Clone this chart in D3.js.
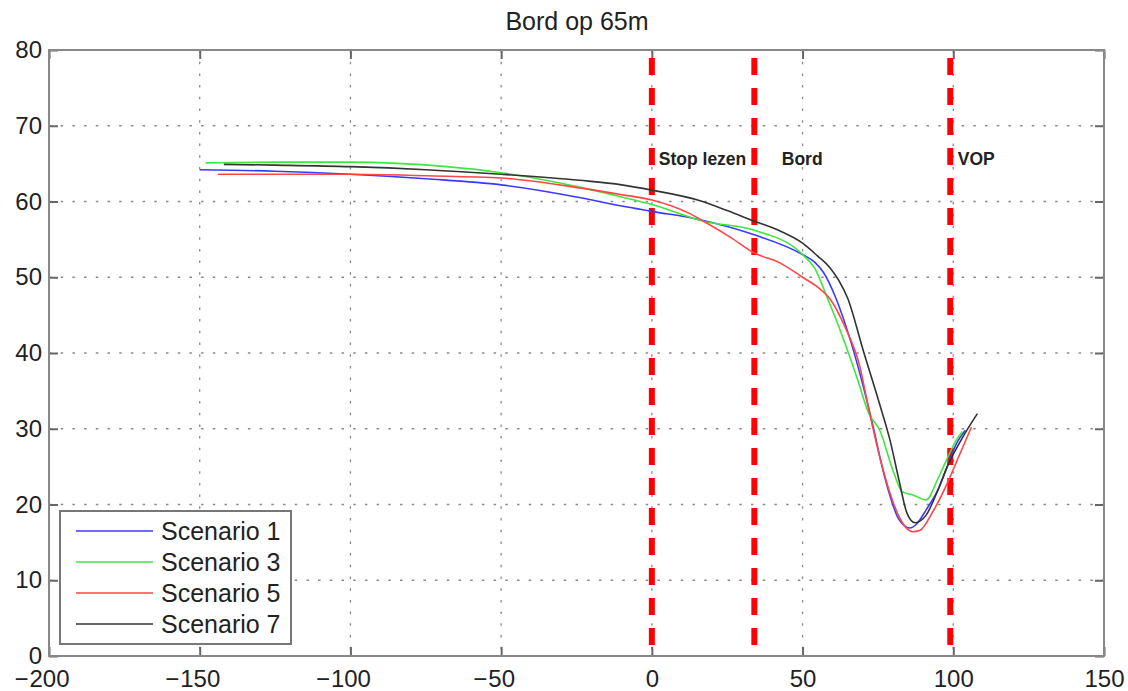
<!DOCTYPE html>
<html>
<head>
<meta charset="utf-8">
<script src="https://cdn.jsdelivr.net/npm/d3@7"></script>
<style>
  html, body { margin: 0; padding: 0; background: #fff; }
  svg { display: block; font-family: "Liberation Sans", Arial, sans-serif; }
</style>
</head>
<body>
<svg id="chart" width="1128" height="691"></svg>
<script>
// ---- data ----
const xTicks = [-200, -150, -100, -50, 0, 50, 100, 150];
const yTicks = [0, 10, 20, 30, 40, 50, 60, 70, 80];

const s1x = [-150, -125, -100, -75, -50, -25, -10, 0, 16, 34, 50, 54, 57, 61, 66, 70, 73, 77, 82, 85.6, 88, 91, 95, 98, 101, 104];
const s1y = [64.2, 64.0, 63.6, 63.0, 62.2, 60.6, 59.4, 58.7, 57.6, 55.6, 53.0, 52.0, 50.6, 47.3, 41.5, 35.8, 31.0, 24.0, 18.0, 16.9, 17.5, 19.3, 22.0, 25.0, 28.0, 29.8];

const s3x = [-148, -125, -100, -68, -50, -24, -10, 0, 17, 34, 50, 54, 58, 62, 68, 72, 75.6, 80, 83, 87, 91, 95, 98, 101, 103];
const s3y = [65.1, 65.2, 65.2, 64.6, 63.8, 61.9, 60.6, 59.6, 57.4, 56.2, 53.0, 51.2, 47.5, 43.5, 36.8, 32.0, 29.8, 24.5, 21.7, 21.2, 20.6, 23.5, 26.1, 28.5, 29.6];

const s5x = [-144, -125, -100, -75, -50, -24, -10, 0, 12.6, 17.6, 26, 34, 42.5, 50, 55, 59, 64, 69, 72, 75.6, 79, 82, 86.6, 89, 93, 98, 102, 106];
const s5y = [63.6, 63.6, 63.6, 63.4, 63.1, 61.8, 60.9, 60.2, 58.4, 57.3, 55.3, 53.2, 51.9, 50.0, 48.7, 47.2, 43.5, 38.2, 32.5, 26.3, 21.5, 18.4, 16.4, 16.6, 18.9, 22.8, 26.5, 30.2];

const s7x = [-142, -125, -100, -75, -50, -24, -10, 0, 16, 25, 34, 42, 50, 55, 59, 62, 65, 70, 75.6, 79, 82, 84.6, 87.3, 91, 95, 98, 103, 108];
const s7y = [64.9, 64.8, 64.6, 64.2, 63.6, 62.8, 62.2, 61.5, 60.1, 58.8, 57.4, 56.2, 54.5, 52.8, 51.3, 49.6, 47.2, 40.5, 33.2, 28.5, 23.2, 18.9, 17.6, 18.6, 22.0, 25.0, 28.8, 32.0];

const seriesNames = ["Scenario 1", "Scenario 3", "Scenario 5", "Scenario 7"];
const seriesColors = ["#3a3aff", "#3ee63e", "#ff4545", "#333333"];

const markerX = [0, 34, 99];
const annotationText = ["Stop lezen", "Bord", "VOP"];
const annotationX = [2.3, 43.1, 101.5];
const annotationY = 64.8;

const title = "Bord op 65m";

// ---- layout ----
const svg = d3.select("#chart");
const L = 49, R = 1104, T = 50, B = 656;

const x = d3.scaleLinear().domain([-200, 150]).range([L, R]);
const y = d3.scaleLinear().domain([0, 80]).range([B, T]);

// grid
const grid = svg.append("g");
grid.selectAll("line.gx").data(xTicks.slice(1, -1)).enter().append("line")
  .attr("x1", d => x(d)).attr("x2", d => x(d)).attr("y1", T).attr("y2", B)
  .attr("stroke", "#8a8a8a").attr("stroke-width", 1.3).attr("stroke-dasharray", "2.5,9.2");
grid.selectAll("line.gy").data(yTicks.slice(1, -1)).enter().append("line")
  .attr("y1", d => y(d)).attr("y2", d => y(d)).attr("x1", L).attr("x2", R)
  .attr("stroke", "#8a8a8a").attr("stroke-width", 1.3).attr("stroke-dasharray", "2.5,9.2");

// axes (MATLAB style: inward ticks on all sides)
const tickLen = 9;
const axBottom = d3.axisBottom(x).tickValues(xTicks).tickSize(-tickLen).tickPadding(14)
  .tickFormat(d => String(Math.abs(d)));
const axTop = d3.axisTop(x).tickValues(xTicks).tickSize(-tickLen).tickFormat("");
const axLeft = d3.axisLeft(y).tickValues(yTicks).tickSize(-tickLen).tickPadding(7);
const axRight = d3.axisRight(y).tickValues(yTicks).tickSize(-tickLen).tickFormat("");

function styleAxis(g) {
  g.select(".domain").remove();
  g.selectAll(".tick line").attr("stroke", "#666").attr("stroke-width", 2);
  g.selectAll(".tick text").attr("fill", "#222").style("font-size", "24px")
    .style("font-family", "'Liberation Sans', Arial, sans-serif");
}
const gB = svg.append("g").attr("transform", `translate(0,${B})`).call(axBottom).call(styleAxis);
// MATLAB-like negative labels: digits centred on the tick, minus sign hanging to the left
gB.selectAll(".tick").each(function(d) {
  if (d >= 0) return;
  const t = d3.select(this).select("text");
  const w = t.node().getComputedTextLength();
  d3.select(this).append("text")
    .attr("x", -w / 2 - 1).attr("y", t.attr("y")).attr("dy", t.attr("dy"))
    .attr("text-anchor", "end").attr("fill", "#222").style("font-size", "24px")
    .style("font-family", "'Liberation Sans', Arial, sans-serif")
    .text("\u2212");
});
svg.append("g").attr("transform", `translate(0,${T})`).call(axTop).call(styleAxis);
svg.append("g").attr("transform", `translate(${L},0)`).call(axLeft).call(styleAxis);
svg.append("g").attr("transform", `translate(${R},0)`).call(axRight).call(styleAxis);

// box
svg.append("rect").attr("x", L).attr("y", T).attr("width", R - L).attr("height", B - T)
  .attr("fill", "none").attr("stroke", "#888").attr("stroke-width", 2);

// marker lines
svg.append("g").selectAll("line").data(markerX).enter().append("line")
  .attr("x1", d => x(d)).attr("x2", d => x(d)).attr("y1", T + 8).attr("y2", B)
  .attr("stroke", "#ff0000").attr("stroke-width", 6).attr("stroke-dasharray", "17,13");

// series lines
const allSeries = [[s1x, s1y], [s3x, s3y], [s5x, s5y], [s7x, s7y]];
const line = d3.line().x(d => x(d[0])).y(d => y(d[1])).curve(d3.curveMonotoneX);
allSeries.forEach((s, i) => {
  const pts = s[0].map((v, j) => [v, s[1][j]]);
  svg.append("path").datum(pts).attr("d", line)
    .attr("fill", "none").attr("stroke", seriesColors[i]).attr("stroke-width", 1.6);
});

// annotations
svg.append("g").selectAll("text").data(annotationText).enter().append("text")
  .attr("x", (d, i) => x(annotationX[i])).attr("y", y(annotationY))
  .attr("fill", "#222").style("font-size", "17.5px").style("font-weight", "bold")
  .text(d => d);

// title
svg.append("text").attr("x", 577).attr("y", 30).attr("text-anchor", "middle")
  .attr("fill", "#222").style("font-size", "25px").text(title);

// legend
const lg = svg.append("g");
lg.append("rect").attr("x", 60).attr("y", 511).attr("width", 231).attr("height", 133)
  .attr("fill", "#fff").attr("stroke", "#777").attr("stroke-width", 2);
seriesNames.forEach((n, i) => {
  const yy = 531 + i * 31;
  lg.append("line").attr("x1", 76).attr("x2", 153).attr("y1", yy).attr("y2", yy)
    .attr("stroke", seriesColors[i]).attr("stroke-width", 1.6);
  lg.append("text").attr("x", 161).attr("y", yy + 8.5).attr("fill", "#222")
    .style("font-size", "25px").text(n);
});
</script>
</body>
</html>
